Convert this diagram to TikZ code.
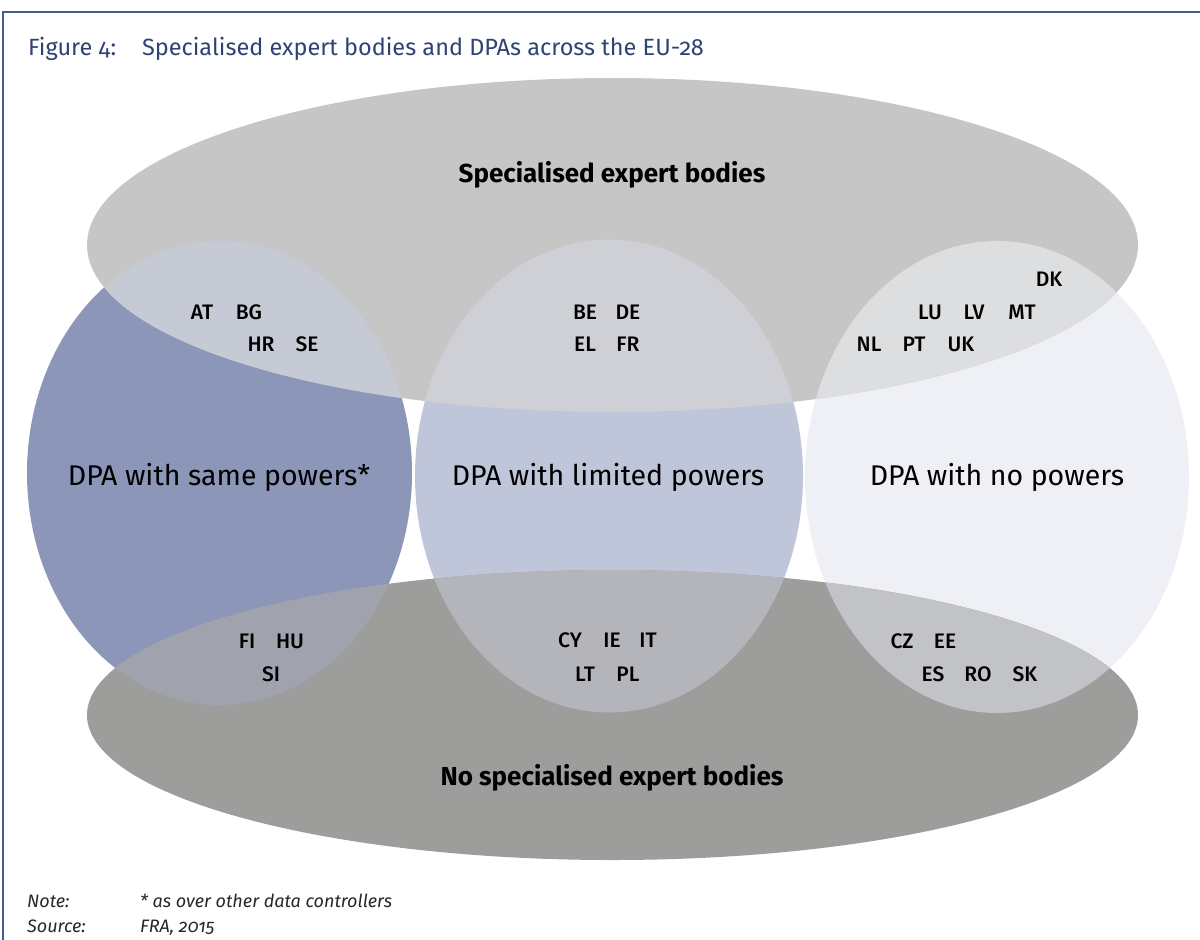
\documentclass[tikz,border=0pt]{standalone}
\usepackage{fontspec}
\setmainfont{Fira Sans}[Numbers=OldStyle]
\setsansfont{Fira Sans}[Numbers=OldStyle]
\newfontfamily\codefont{Fira Sans Medium}
\newfontfamily\headfont{Fira Sans}[Numbers=OldStyle]

% region colours
\definecolor{frameblue}{HTML}{3D5F94}
\definecolor{titleblue}{HTML}{2C4374}
\definecolor{topgray}{HTML}{C6C6C6}
\definecolor{botgray}{HTML}{9D9D9B}
\definecolor{leftfill}{HTML}{8B96B9}
\definecolor{midfill}{HTML}{C0C6DA}
\definecolor{rightfill}{HTML}{EFF0F5}
\definecolor{lefttop}{HTML}{C6CAD4}
\definecolor{midtop}{HTML}{CFD0D5}
\definecolor{righttop}{HTML}{DDDEE0}
\definecolor{leftbot}{HTML}{A0A3AD}
\definecolor{midbot}{HTML}{B4B5BA}
\definecolor{rightbot}{HTML}{C2C3C6}
\definecolor{notegray}{HTML}{262626}

\tikzset{
  setlabel/.style={font=\fontsize{26}{30}\selectfont\bfseries, text=black, anchor=base, inner sep=0pt},
  dpalabel/.style={font=\fontsize{28.5}{33}\selectfont, text=black, anchor=base, inner sep=0pt},
  code/.style={font=\codefont\fontsize{21}{24}\selectfont, text=black, anchor=base, inner sep=0pt},
  notetext/.style={font=\fontsize{18}{21}\selectfont\itshape, text=notegray, anchor=base west, inner sep=0pt}
}

\begin{document}
\begin{tikzpicture}[x=1pt,y=-1pt]
\useasboundingbox (0,0) rectangle (1200,940);

% open frame (top and left edges)
\draw[frameblue, line width=2pt] (1200,12) -- (3,12) -- (3,940);

% title
\node[anchor=base west, inner sep=0pt, text=titleblue,
      font=\headfont\fontsize{23.5}{28}\selectfont] (title) at (28,55)
  {Figure 4:\hspace{1.1em}Specialised expert bodies and DPAs across the EU-28};

% base shapes
\def\topE{(612.5,245) ellipse [x radius=525.5, y radius=167]}
\def\botE{(612.5,715) ellipse [x radius=525.5, y radius=145]}
\def\leftC{(219.5,473) ellipse [x radius=192.5, y radius=232]}
\def\midC{(609,476) ellipse [x radius=194, y radius=236.5]}
\def\rightC{(997,477) ellipse [x radius=192, y radius=236]}

\fill[leftfill] \leftC;
\fill[midfill] \midC;
\fill[rightfill] \rightC;
\fill[topgray] \topE;
\fill[botgray] \botE;

% overlaps
\begin{scope}\clip \leftC; \fill[lefttop] \topE; \fill[leftbot] \botE; \end{scope}
\begin{scope}\clip \midC; \fill[midtop] \topE; \fill[midbot] \botE; \end{scope}
\begin{scope}\clip \rightC; \fill[righttop] \topE; \fill[rightbot] \botE; \end{scope}

% set labels
\node[setlabel] (experts) at (612,182) {Specialised expert bodies};
\node[setlabel] (noexperts) at (612,785) {No specialised expert bodies};
\node[dpalabel] (same) at (219,485) {DPA with same powers*};
\node[dpalabel] (limited) at (608,485) {DPA with limited powers};
\node[dpalabel] (none) at (997,485) {DPA with no powers};

% member states
\node[code] (AT) at (202,319) {AT};
\node[code] (BG) at (249,319) {BG};
\node[code] (HR) at (261,351) {HR};
\node[code] (SE) at (307,351) {SE};

\node[code] (BE) at (585,319) {BE};
\node[code] (DE) at (628,319) {DE};
\node[code] (EL) at (585,351) {EL};
\node[code] (FR) at (628,351) {FR};

\node[code] (DK) at (1049,286) {DK};
\node[code] (LU) at (930,319) {LU};
\node[code] (LV) at (974,319) {LV};
\node[code] (MT) at (1022,319) {MT};
\node[code] (NL) at (869,351) {NL};
\node[code] (PT) at (914,351) {PT};
\node[code] (UK) at (961,351) {UK};

\node[code] (FI) at (247,648) {FI};
\node[code] (HU) at (290,648) {HU};
\node[code] (SI) at (271,681) {SI};

\node[code] (CY) at (570,647) {CY};
\node[code] (IE) at (612,647) {IE};
\node[code] (IT) at (648,647) {IT};
\node[code] (LT) at (585,681) {LT};
\node[code] (PL) at (628,681) {PL};

\node[code] (CZ) at (902,648) {CZ};
\node[code] (EE) at (945,648) {EE};
\node[code] (ES) at (933,681) {ES};
\node[code] (RO) at (978,681) {RO};
\node[code] (SK) at (1025,681) {SK};

% notes
\node[notetext] (notelbl) at (27,907) {Note:};
\node[notetext] (notetxt) at (140,907) {* as over other data controllers};
\node[notetext] (srclbl) at (27,932) {Source:};
\node[notetext] (srctxt) at (140,932) {FRA, 2015};
\end{tikzpicture}
\end{document}
